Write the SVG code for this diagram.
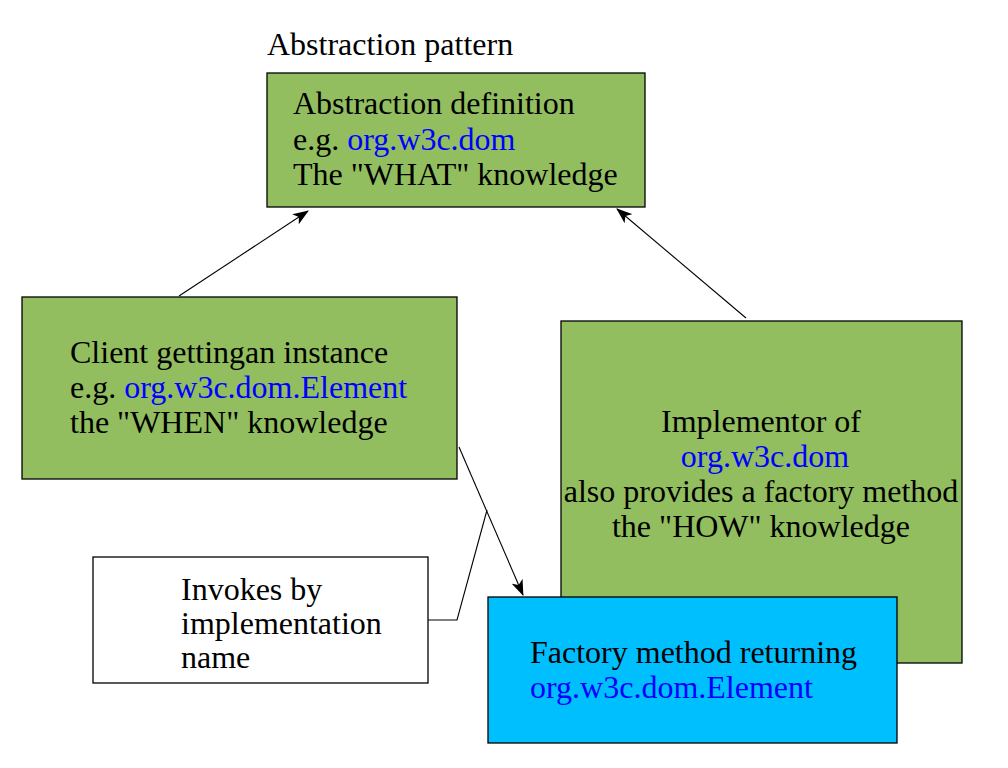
<svg xmlns="http://www.w3.org/2000/svg" width="1008" height="768" viewBox="0 0 1008 768">
<style>
.t{font-family:"Liberation Serif","Times New Roman",serif;font-size:32px;fill:#000}
.b{fill:#0000ff}
.box{stroke:#000;stroke-width:1.3}
.g{fill:#92be5f}
.c{fill:#00bfff}
.w{fill:#ffffff}
.ln{stroke:#000;stroke-width:1.1;fill:none}
</style>
<defs>
<marker id="ah" markerWidth="16" markerHeight="12" refX="15" refY="6" orient="auto" markerUnits="userSpaceOnUse">
<path d="M0,0 L16,6 L0,12 L4,6 Z" fill="#000"/>
</marker>
</defs>
<rect width="1008" height="768" fill="#fff"/>
<text class="t" x="267" y="55">Abstraction pattern</text>
<g id="abstraction">
<rect class="box g" x="267" y="73" width="378" height="134"/>
<text class="t" x="293" y="114">Abstraction definition</text>
<text class="t" x="293" y="150">e.g. <tspan class="b">org.w3c.dom</tspan></text>
<text class="t" x="293" y="185">The "WHAT" knowledge</text>
</g>
<g id="client">
<rect class="box g" x="22" y="297" width="435" height="182"/>
<text class="t" x="70" y="363">Client gettingan instance</text>
<text class="t" x="70" y="398">e.g. <tspan class="b">org.w3c.dom.Element</tspan></text>
<text class="t" x="70" y="433">the "WHEN" knowledge</text>
</g>
<g id="implementor">
<rect class="box g" x="561" y="321" width="401" height="342"/>
<text class="t" x="761" y="432" text-anchor="middle">Implementor of</text>
<text class="t b" x="765" y="467" text-anchor="middle">org.w3c.dom</text>
<text class="t" x="761" y="502" text-anchor="middle">also provides a factory method</text>
<text class="t" x="761" y="537" text-anchor="middle">the "HOW" knowledge</text>
</g>
<g id="factory">
<rect class="box c" x="488" y="597" width="409" height="146"/>
<text class="t" x="530" y="663">Factory method returning</text>
<text class="t b" x="530" y="698">org.w3c.dom.Element</text>
</g>
<g id="invokes">
<rect class="box w" x="93" y="557" width="335" height="126"/>
<text class="t" x="181" y="600">Invokes by</text>
<text class="t" x="181" y="634">implementation</text>
<text class="t" x="181" y="668">name</text>
</g>
<g id="connectors">
<line class="ln" x1="179" y1="296" x2="308" y2="211" marker-end="url(#ah)"/>
<line class="ln" x1="746" y1="318" x2="617" y2="209" marker-end="url(#ah)"/>
<line class="ln" x1="459" y1="447" x2="523" y2="595" marker-end="url(#ah)"/>
<polyline class="ln" points="428,620 457,620 487,510"/>
</g>
</svg>
